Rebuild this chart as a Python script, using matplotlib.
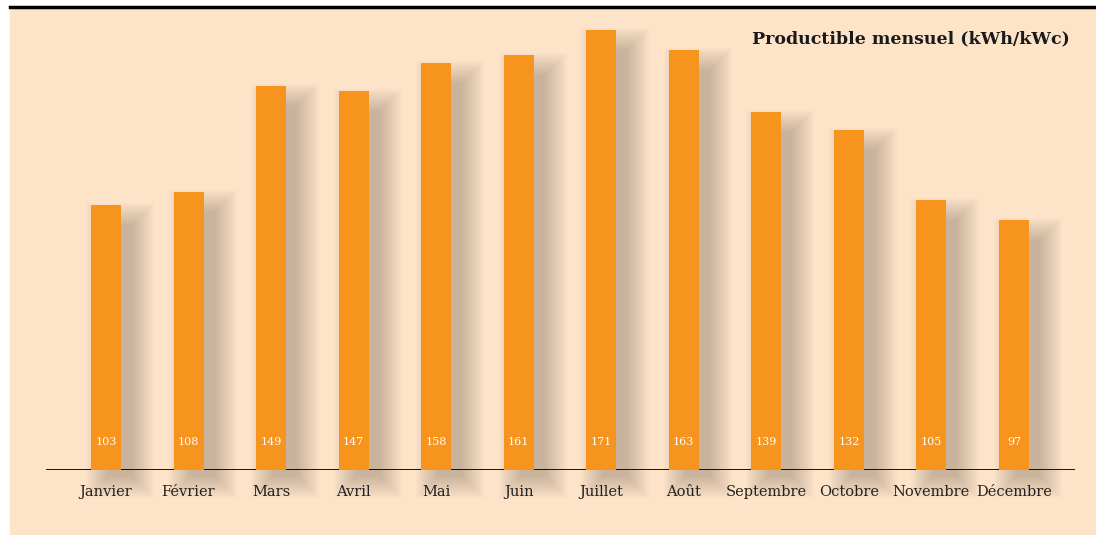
"""Productible mensuel (kWh/kWc) : barres orange avec ombre portée floue."""
import numpy as np
import matplotlib
matplotlib.use("Agg")
import matplotlib.pyplot as plt
from matplotlib.patches import Rectangle

MOIS = ["Janvier", "Février", "Mars", "Avril", "Mai", "Juin", "Juillet",
        "Août", "Septembre", "Octobre", "Novembre", "Décembre"]
PRODUCTIBLE = [103, 108, 149, 147, 158, 161, 171, 163, 139, 132, 105, 97]
TITRE = "Productible mensuel (kWh/kWc)"

FOND = "#FDE4C9"
ORANGE = "#F7941E"
OMBRE = "#5a4a3a"
SERIF = ["DejaVu Serif"]

W, H = 1096, 535
fig = plt.figure(figsize=(W / 100, H / 100), dpi=100, facecolor="white")
fig.patches.append(Rectangle((10 / W, 0), 1 - 10 / W, 1 - 7 / H,
                             transform=fig.transFigure, color=FOND, zorder=-5))
fig.add_artist(plt.Line2D([10 / W, 1], [1 - 6.5 / H, 1 - 6.5 / H],
                          transform=fig.transFigure, color="black", lw=2.5))

ax = fig.add_axes([46 / W, 1 - 470 / H, (1075 - 46) / W, (470 - 8) / H])
ax.set_zorder(2)
ax.set_facecolor("none")
ax.set_xlim(-0.727, 11.74)
ax.set_ylim(0, 179.4)
for s in ax.spines.values():
    s.set_visible(False)
ax.set_xticks([]); ax.set_yticks([])

x = np.arange(len(MOIS))
h = np.array(PRODUCTIBLE, dtype=float)
w = 0.363
px_x = 1 / 82.55   # un pixel en unités x
px_y = 1 / 2.575   # un pixel en unités y

# ombre floue : couches translucides, de la plus large à la plus serrée
for k in range(12):
    s = 22 - 2 * k   # demi-élargissement en pixels
    ax.bar(x + 14 * px_x, h - 14 * px_y + 2 * s * px_y,
           width=w - 6 * px_x + 2 * s * px_x, bottom=(-6 - s) * px_y,
           color=OMBRE, alpha=0.028, lw=0, zorder=1, clip_on=False)

ax.axhline(0, color="black", lw=2, zorder=2)
ax.bar(x, h, width=w, color=ORANGE, lw=0, zorder=3)

for xi, v in zip(x, PRODUCTIBLE):
    ax.text(xi, 28 * px_y, str(v), ha="center", va="center", color="white",
            fontsize=8, family=SERIF, zorder=4)
for xi, m in zip(x, MOIS):
    ax.text(xi, -22 * px_y, m, ha="center", va="center", color="#222222",
            fontsize=10.5, family=SERIF, clip_on=False)

fig.text(1070 / W, 1 - 39 / H, TITRE, ha="right", va="center",
         fontsize=12.5, fontweight="bold", family=SERIF, color="#1a1a1a")

fig.savefig("out.png", dpi=100, facecolor="white")
